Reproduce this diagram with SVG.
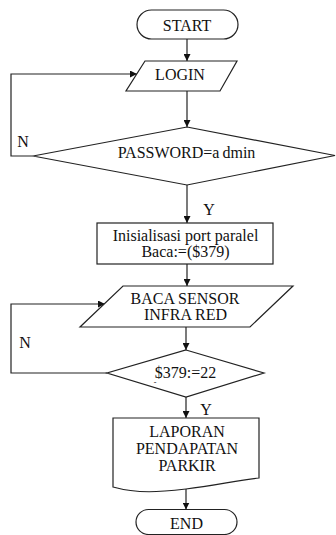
<svg xmlns="http://www.w3.org/2000/svg" width="336" height="535" viewBox="0 0 336 535">
  <defs>
    <marker id="arrow" viewBox="0 0 10 10" refX="10" refY="5" markerWidth="7" markerHeight="7" markerUnits="userSpaceOnUse" orient="auto">
      <path d="M0,0 L10,5 L0,10 z" fill="#111"/>
    </marker>
  </defs>
  <style>
    .shape { fill: #fff; stroke: #222; stroke-width: 1.2; }
    .line { fill: none; stroke: #222; stroke-width: 1.2; }
    .flow { fill: none; stroke: #222; stroke-width: 1.2; marker-end: url(#arrow); }
    .lbl { font-size: 16px; fill: #111; text-anchor: middle; }
  </style>
  <rect width="336" height="535" fill="#fff"/>

  <g font-family="'Liberation Serif', 'DejaVu Serif', serif">
  <!-- connectors -->
  <g id="connectors">
    <line class="flow" x1="187" y1="39" x2="187" y2="61"/>
    <line class="flow" x1="187" y1="91" x2="187" y2="127"/>
    <polyline class="flow" points="33,156 11,156 11,74 137,74"/>
    <line class="flow" x1="187" y1="185" x2="187" y2="223"/>
    <line class="flow" x1="187" y1="264" x2="187" y2="286"/>
    <line class="flow" x1="186" y1="327" x2="186" y2="350"/>
    <polyline class="flow" points="107,373 11,373 11,304 105,304"/>
    <line class="flow" x1="186" y1="397" x2="186" y2="418"/>
    <line class="flow" x1="186" y1="489" x2="186" y2="509.5"/>
    <text class="lbl" x="23" y="147">N</text>
    <text class="lbl" x="209" y="215">Y</text>
    <text class="lbl" x="25" y="348">N</text>
    <text class="lbl" x="206" y="415">Y</text>
  </g>

  <!-- start terminal -->
  <g id="start">
    <rect class="shape" x="137" y="10" width="101" height="29" rx="14.5"/>
    <text class="lbl" x="187" y="31">START</text>
  </g>

  <!-- login input -->
  <g id="login">
    <polygon class="shape" points="145,61 237,61 220,91 126,91"/>
    <text class="lbl" x="180" y="80">LOGIN</text>
  </g>

  <!-- password check -->
  <g id="password-check">
    <polygon class="shape" points="187,127 335,155.5 187,185 33,156"/>
    <text class="lbl" x="186.5" y="158">PASSWORD=a<tspan dx="3">dmin</tspan></text>
  </g>

  <!-- port initialisation -->
  <g id="init-port">
    <rect class="shape" x="97" y="223" width="176" height="41"/>
    <text class="lbl" x="185.5" y="241">Inisialisasi port paralel</text>
    <text class="lbl" x="185.5" y="257">Baca:=($379)</text>
  </g>

  <!-- sensor input -->
  <g id="read-sensor">
    <polygon class="shape" points="123,286 293,286 250,327 80,327"/>
    <text class="lbl" x="185" y="304">BACA SENSOR</text>
    <text class="lbl" x="185.5" y="320">INFRA RED</text>
  </g>

  <!-- port value check -->
  <g id="port-check">
    <polygon class="shape" points="186,350 264,373 186,397 107,373"/>
    <text class="lbl" x="185.5" y="378">$379:=22</text>
    <text class="lbl" x="155" y="385" style="font-size:8px">-</text>
  </g>

  <!-- report document -->
  <g id="report">
    <path class="shape" d="M113,418 L259,418 L259,478 C238,480 214,486 186,489 C160,492 138,494 113,487 Z"/>
    <text class="lbl" x="187" y="437">LAPORAN</text>
    <text class="lbl" x="187" y="454">PENDAPATAN</text>
    <text class="lbl" x="187" y="471">PARKIR</text>
  </g>

  <!-- end terminal -->
  <g id="end">
    <rect class="shape" x="136" y="509.5" width="101" height="25" rx="12.5"/>
    <text class="lbl" x="186.5" y="529">END</text>
  </g>
  </g>
</svg>
